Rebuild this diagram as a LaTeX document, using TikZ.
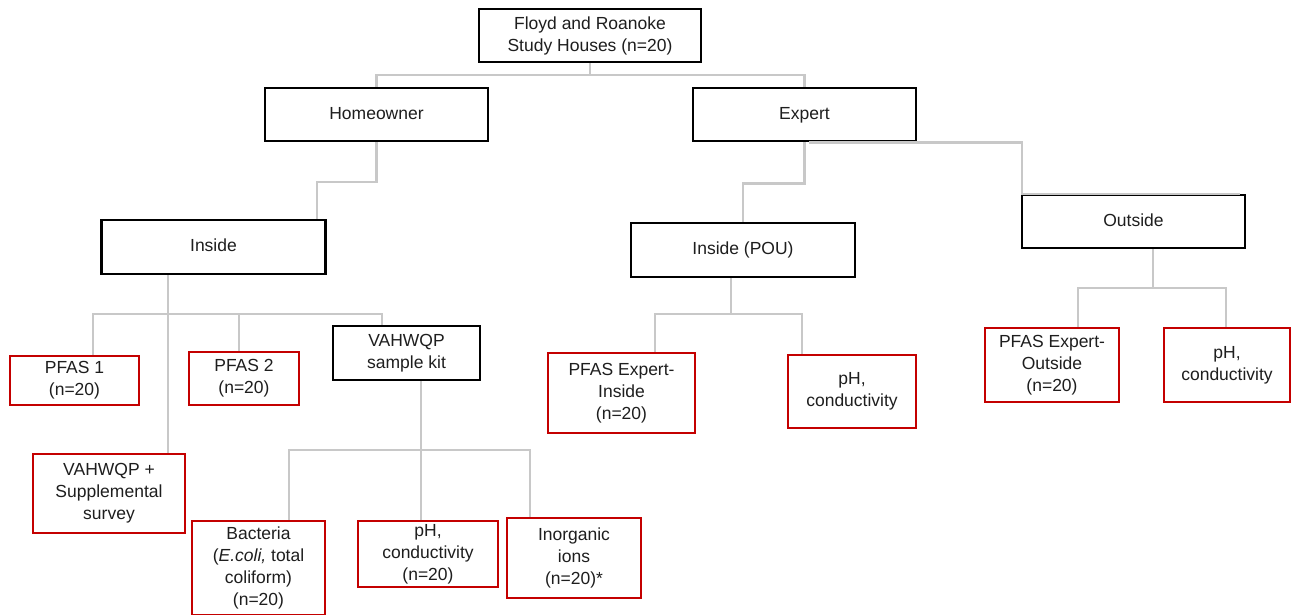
\documentclass[tikz,border=0pt]{standalone}
\usepackage{fontspec}
\setmainfont{Liberation Sans}
\usetikzlibrary{calc,backgrounds}
\definecolor{boxred}{RGB}{196,0,0}
\definecolor{conngray}{RGB}{200,200,200}
\definecolor{txt}{RGB}{30,30,30}
\begin{document}
\begin{tikzpicture}[x=1pt,y=-1pt,
  every node/.style={font=\fontsize{17.5}{22}\selectfont, text=txt, align=center, inner sep=0pt},
  blackbox/.style={draw=black, line width=2.6pt, fill=white},
  redbox/.style={draw=boxred, line width=2.4pt, fill=white},
  oneline/.style={text height=12.8pt, text depth=3.6pt},
  conn/.style={draw=conngray, line width=2.4pt}]
\useasboundingbox (0,0) rectangle (1295,615);

% boxes
\node[blackbox, minimum width=222pt, minimum height=53pt] (floyd) at (590,35.5) {Floyd and Roanoke\\Study Houses (n=20)};
\node[blackbox, oneline, minimum width=223pt, minimum height=53pt] (home) at (376.5,114.5) {Homeowner};
\node[blackbox, oneline, minimum width=223pt, minimum height=53pt] (expert) at (804.5,114.5) {Expert};
\node[blackbox, oneline, minimum width=224pt, minimum height=54pt] (inside) at (213.5,247) {Inside};
\node[blackbox, oneline, minimum width=224pt, minimum height=54pt] (pou) at (743,250) {Inside (POU)};
\node[blackbox, oneline, minimum width=223pt, minimum height=53pt] (outside) at (1133.5,221.5) {Outside};
\node[blackbox, minimum width=147pt, minimum height=54pt] (kit) at (406.5,353) {VAHWQP\\sample kit};

\node[redbox, minimum width=129pt, minimum height=49pt] (pfas1) at (74.5,380.5) {PFAS 1\\(n=20)};
\node[redbox, minimum width=110pt, minimum height=53pt] (pfas2) at (244,378.5) {PFAS 2\\(n=20)};
\node[redbox, minimum width=152pt, minimum height=79pt] (supp) at (109,493.5) {VAHWQP +\\Supplemental\\survey};
\node[redbox, minimum width=133pt, minimum height=94pt] (bact) at (258.5,568) {Bacteria\\(\textit{E.coli,} total\\coliform)\\(n=20)};
\node[redbox, minimum width=140pt, minimum height=66pt] (ph1) at (428,554) {pH,\\conductivity\\(n=20)};
\node[redbox, minimum width=134pt, minimum height=80pt] (inorg) at (574,558) {Inorganic\\ions\\(n=20)*};
\node[redbox, minimum width=147pt, minimum height=80pt] (pfasin) at (621.5,393) {PFAS Expert-\\Inside\\(n=20)};
\node[redbox, minimum width=128pt, minimum height=73pt] (ph2) at (852,391.5) {pH,\\conductivity};
\node[redbox, minimum width=134pt, minimum height=74pt] (pfasout) at (1052,365) {PFAS Expert-\\Outside\\(n=20)};
\node[redbox, minimum width=126pt, minimum height=74pt] (ph3) at (1227,365) {pH,\\conductivity};

% helper coordinates
\coordinate (hI) at (317,182);
\coordinate (sI) at (168,314);
\coordinate (bI) at (382,314);
\coordinate (xP1) at (93,0);
\coordinate (xP2) at (239,0);
\coordinate (sK) at (421,450);
\coordinate (xB) at (289,0);
\coordinate (bK) at (530,450);
\coordinate (sP) at (731,314);
\coordinate (xPI) at (655,0);
\coordinate (bP) at (802,314);
\coordinate (sO) at (1153,288);
\coordinate (xPO) at (1078,0);
\coordinate (bO) at (1226,288);
\coordinate (eO) at (809,0);
\coordinate (cO) at (1022,0);

% connectors behind the boxes
\begin{pgfonlayer}{background}
\fill[white] (0,0) rectangle (1295,615);
\draw[conn] (floyd.south) -- ++(0,12) -| (home.north);
\draw[conn] (floyd.south) -- ++(0,12) -| (expert.north);
\draw[conn] (home.south) |- (hI) -- (inside.north -| hI);

\draw[conn] (inside.south -| sI) -- (supp.north -| sI);
\draw[conn] (pfas1.north -| xP1) |- (bI) -- (kit.north -| bI);
\draw[conn] (pfas2.north -| xP2) -- (xP2 |- bI);

\draw[conn] (kit.south -| sK) -- (ph1.north -| sK);
\draw[conn] (bact.north -| xB) |- (bK) -- (inorg.north -| bK);

\draw[conn] (expert.south) -- ++(0,41) -| (pou.north);

\draw[conn] (pou.south -| sP) -- (sP);
\draw[conn] (pfasin.north -| xPI) |- (bP) -- (ph2.north -| bP);

\draw[conn] (outside.south -| sO) -- (sO);
\draw[conn] (pfasout.north -| xPO) |- (bO) -- (ph3.north -| bO);
\end{pgfonlayer}

% this connector runs over the box edges, as in the original
\draw[conn] (expert.south -| eO) -| (outside.north -| cO) -- ($(outside.north east)+(-6,0)$);
\end{tikzpicture}
\end{document}
